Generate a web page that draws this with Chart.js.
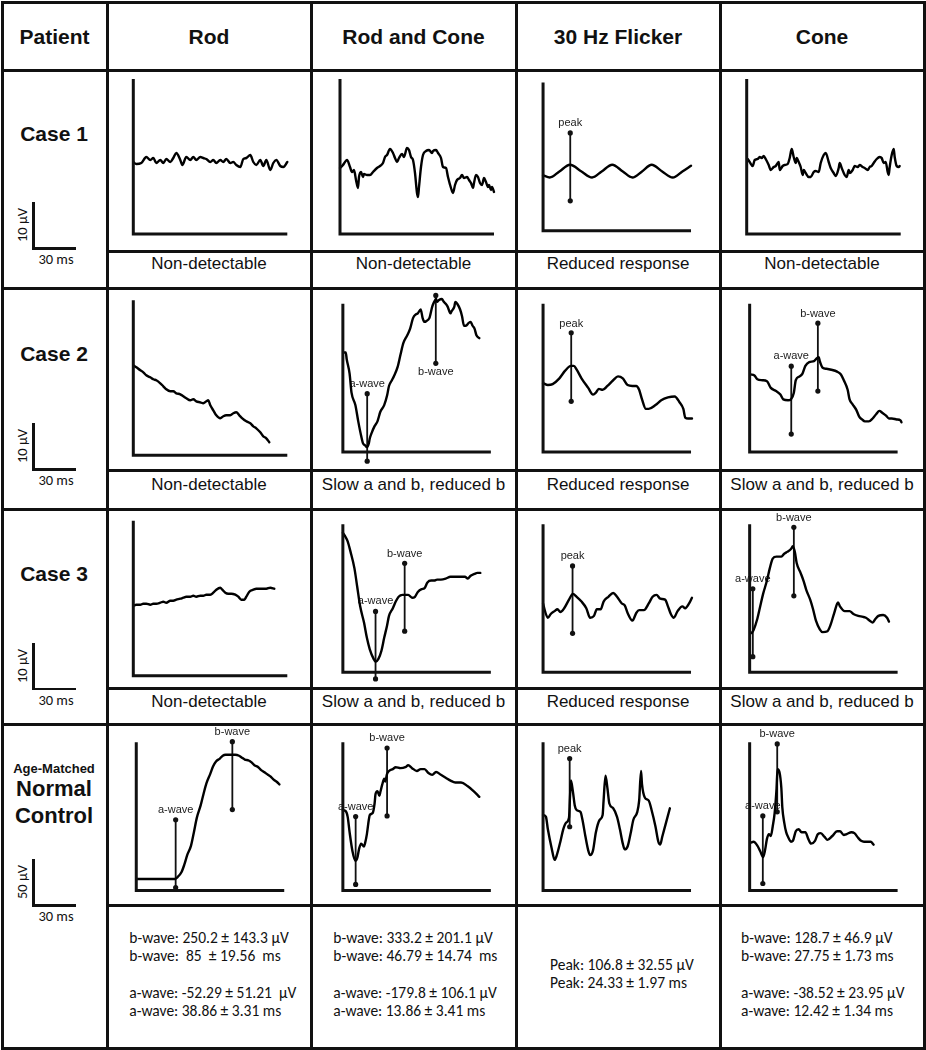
<!DOCTYPE html>
<html>
<head>
<meta charset="utf-8">
<script src="https://cdn.jsdelivr.net/npm/chart.js@4.4.0/dist/chart.umd.min.js"></script>
<style>
  body { margin: 0; background: #fff; }
  #fig { position: relative; width: 926px; height: 1050px; background: #fff; overflow: hidden;
         font-family: "Liberation Sans", Arial, sans-serif; color: #111; }
  .ln { position: absolute; background: #111; z-index: 5; }
  .t { position: absolute; white-space: pre; transform: translate(-50%, -50%); line-height: 1; }
  .stat { position: absolute; white-space: pre; font-family: Carlito, Lato, "Open Sans", sans-serif;
          font-size: 15.5px; line-height: 18.3px; color: #111; }
  canvas { position: absolute; }
</style>
</head>
<body>
<div id="fig"></div>
<script>
// table text
const headers = ['Patient', 'Rod', 'Rod and Cone', '30 Hz Flicker', 'Cone'];
const patients = ['Case 1', 'Case 2', 'Case 3'];
const findings = [
  ['Non-detectable', 'Non-detectable', 'Reduced response', 'Non-detectable'],
  ['Non-detectable', 'Slow a and b, reduced b', 'Reduced response', 'Slow a and b, reduced b'],
  ['Non-detectable', 'Slow a and b, reduced b', 'Reduced response', 'Slow a and b, reduced b']
];
const ampBars = ['10 µV', '10 µV', '10 µV', '50 µV'];
const timeBar = '30 ms';
const controlStats = [
  ['b-wave: 250.2 ± 143.3 µV', 'b-wave:  85  ± 19.56  ms', '', 'a-wave: -52.29 ± 51.21  µV', 'a-wave: 38.86 ± 3.31 ms'],
  ['b-wave: 333.2 ± 201.1 µV', 'b-wave: 46.79 ± 14.74  ms', '', 'a-wave: -179.8 ± 106.1 µV', 'a-wave: 13.86 ± 3.41 ms'],
  ['Peak: 106.8 ± 32.55 µV', 'Peak: 24.33 ± 1.97 ms'],
  ['b-wave: 128.7 ± 46.9 µV', 'b-wave: 27.75 ± 1.73 ms', '', 'a-wave: -38.52 ± 23.95 µV', 'a-wave: 12.42 ± 1.34 ms']
];

// traces: [time, amplitude] in axis units (axis box is 154 x 155)
const case1Rod = [[0,72],[3,70],[8,71],[13,77],[17,74],[20,76],[23,71],[27,74],[30,71],[33,75],[37,72],[40,76],[43,81],[47,74],[49,69],[53,77],[57,74],[60,77],[63,74],[67,77],[70,76],[73,75],[77,72],[80,74],[83,71],[87,74],[90,72],[93,75],[97,71],[100,72],[103,69],[107,67],[110,75],[113,76],[117,79],[120,72],[123,69],[127,74],[130,68],[133,74],[137,64],[140,71],[143,74],[147,68],[150,67],[154,72]];
const case1RodCone = [[0,66],[3,69],[5,72],[7,74],[10,67],[12,62],[14,64],[16,54],[18,46],[19,57],[21,62],[23,57],[24,60],[27,59],[30,59],[33,62],[37,66],[40,68],[43,71],[45,77],[47,79],[50,85],[53,81],[55,76],[57,72],[59,76],[62,80],[64,77],[67,86],[69,84],[71,77],[73,74],[75,61],[77,41],[78,37],[79,47],[81,67],[83,79],[86,83],[89,84],[92,81],[93,83],[96,84],[98,81],[101,76],[103,67],[106,66],[108,57],[111,46],[113,41],[115,49],[117,54],[120,56],[122,59],[124,56],[127,57],[129,54],[131,51],[133,46],[134,51],[136,59],[138,57],[140,51],[142,49],[144,56],[146,52],[148,47],[149,49],[151,44],[152,47],[154,42]];
const case1Flicker = [[0,58],[7,55.7],[17,62],[28,69],[40,62],[51,55.7],[61,62],[72,69],[83,62],[93,55.7],[103,62],[113,69],[124,62],[135,55.7],[145,62],[154,68]];
const case1Cone = [[1,75],[3,72],[6,68],[8,74],[11,75],[13,77],[15,76],[17,78],[19,75],[22,69],[24,64],[27,67],[29,68],[32,72],[33,64],[36,68],[38,69],[41,70],[43,76],[45,85],[47,77],[49,71],[50,76],[52,72],[54,67],[56,59],[57,64],[59,61],[62,57],[64,57],[67,62],[69,63],[72,62],[74,71],[77,79],[79,81],[82,72],[84,66],[87,61],[89,58],[92,66],[93,71],[95,66],[98,59],[100,57],[102,64],[103,61],[106,64],[108,68],[111,67],[113,69],[116,67],[118,66],[121,64],[123,67],[125,68],[127,71],[130,75],[133,77],[135,76],[137,71],[139,72],[141,62],[142,59],[143,67],[145,79],[147,85],[148,77],[150,68],[152,67],[153,68]];

const case2Rod = [[0,90],[3,88],[7,85],[10,83],[13,80],[17,78],[20,76],[23,75],[27,72],[30,69],[33,66],[37,64],[40,64],[43,62],[47,61],[50,59],[53,57],[57,55],[60,56],[63,54],[67,53],[70,52],[73,54],[75,55],[77,50],[80,45],[83,40],[87,37],[90,39],[93,40],[97,40],[100,42],[103,43],[106,40],[109,37],[113,34],[117,32],[120,29],[123,27],[127,23],[130,19],[133,17],[136,13]];
const case2RodCone = [[1,104],[3,104],[4,97],[7,82],[9,62],[13,49],[16,32],[19,17],[21,9],[23,7],[25,5],[27,9],[28,14],[30,20],[33,27],[36,32],[39,42],[43,49],[46,59],[48,69],[51,75],[53,79],[57,89],[60,102],[63,114],[67,122],[70,129],[73,140],[76,144],[78,145],[81,149],[83,140],[85,136],[87,137],[90,140],[93,152],[95,157],[97,160],[98,157],[100,159],[103,160],[105,157],[107,155],[109,152],[112,145],[113,147],[116,152],[117,157],[119,155],[122,149],[124,142],[126,132],[128,132],[131,135],[133,136],[135,132],[137,129],[139,122],[142,119]];
const case2Flicker = [[0,72],[5,70],[10,71],[17,77],[23,85],[29,90],[32,90],[35,86],[40,77],[47,67],[52,60],[55,62],[58,66],[62,65],[67,69],[73,75],[78,79],[83,77],[88,70],[93,69],[97,69],[100,65],[103,55],[107,45],[110,45],[117,49],[123,54],[130,57],[137,58],[142,52],[146,45],[148,36],[151,35],[155,35]];
const case2Cone = [[1,81],[5,80],[8,76],[13,75],[18,74],[22,67],[27,64],[32,60],[35,55],[40,54],[43,55],[46,62],[48,75],[52,79],[55,82],[58,90],[62,94],[67,95],[70,98],[72,99],[73,95],[76,88],[80,87],[85,86],[91,84],[95,81],[98,75],[102,65],[104,55],[107,50],[111,44],[114,37],[117,34],[120,32],[124,32],[128,35],[132,40],[135,43],[138,41],[142,38],[145,35],[148,35],[153,34],[157,33],[158,31]];

const case3Rod = [[0,70],[3,71],[7,71],[10,72],[13,72],[17,71],[20,72],[23,72],[27,73],[30,74],[33,73],[37,75],[40,75],[43,76],[47,77],[50,78],[53,79],[57,79],[60,80],[63,79],[67,80],[70,80],[73,81],[77,81],[80,83],[83,86],[87,88],[89,86],[92,83],[95,82],[98,82],[102,81],[105,79],[108,76],[111,76],[113,79],[116,84],[120,86],[123,87],[127,87],[130,87],[133,87],[137,88],[141,87]];
const case3RodCone = [[0,146],[2,143],[5,137],[8,126],[12,109],[15,89],[18,69],[22,52],[25,36],[28,24],[32,14],[34,11],[37,14],[40,22],[43,36],[46,49],[48,59],[52,67],[55,74],[58,79],[62,81],[65,81],[68,81],[72,78],[75,79],[78,84],[82,87],[85,88],[88,94],[92,96],[95,96],[98,97],[102,97],[107,98],[112,100],[117,100],[122,100],[127,100],[130,98],[133,101],[137,103],[140,104],[143,104]];
const case3Flicker = [[0,72],[2,64],[5,57],[8,61],[12,64],[15,66],[18,63],[22,67],[27,76],[31,82],[35,79],[40,74],[45,67],[49,57],[53,59],[56,66],[60,66],[63,74],[68,79],[73,83],[77,79],[82,72],[85,70],[88,62],[93,54],[97,62],[100,65],[105,65],[110,72],[114,79],[118,81],[122,77],[127,76],[130,69],[133,61],[136,57],[140,64],[145,69],[148,67],[152,72],[155,78]];
const case3Cone = [[2,41],[4,44],[8,56],[11,69],[14,82],[18,96],[21,109],[24,119],[28,121],[33,121],[36,124],[39,126],[43,129],[45,132],[47,126],[49,114],[53,104],[56,96],[59,86],[63,76],[66,66],[69,54],[73,45],[76,42],[81,43],[84,49],[88,62],[92,73],[94,69],[99,64],[104,64],[108,61],[113,59],[118,58],[121,57],[125,54],[128,52],[131,56],[134,59],[139,60],[143,57],[145,53]];

const controlRod = [[0,12],[7,12],[13,12],[20,12],[27,12],[33,12],[40,12],[43,14],[47,19],[50,27],[53,37],[57,47],[60,61],[63,76],[67,89],[70,101],[73,112],[77,122],[80,130],[83,135],[87,138],[90,141],[93,142],[97,142],[100,142],[103,142],[107,141],[110,139],[113,137],[117,136],[120,134],[123,131],[127,129],[130,126],[133,124],[137,121],[140,119],[143,116],[147,113],[149,111]];
const controlRodCone = [[0,84],[3,83],[5,77],[7,61],[10,41],[13,31],[15,34],[17,44],[19,49],[22,46],[23,49],[25,59],[27,74],[28,79],[31,81],[33,91],[34,101],[36,104],[38,99],[39,103],[41,111],[43,117],[44,114],[46,122],[48,125],[52,127],[55,129],[60,128],[65,129],[68,131],[72,128],[77,125],[81,127],[85,127],[89,123],[93,121],[97,124],[102,121],[107,118],[112,115],[117,113],[123,113],[130,109],[136,104],[142,98]];
const controlFlicker = [[0,79],[3,77],[5,64],[9,44],[12,32],[14,36],[18,51],[21,64],[24,71],[27,76],[28,97],[29,115],[31,104],[33,89],[35,84],[39,82],[41,74],[44,57],[47,42],[49,37],[52,42],[55,61],[59,74],[62,79],[63,94],[65,120],[67,107],[69,91],[73,86],[77,77],[80,64],[83,49],[85,43],[88,46],[91,59],[94,74],[98,82],[100,94],[102,125],[103,111],[106,97],[110,94],[113,84],[117,67],[120,51],[122,48],[124,56],[128,71],[132,86]];
const controlCone = [[1,50],[4,51],[8,47],[11,41],[14,35],[16,42],[18,54],[20,59],[22,57],[24,67],[26,81],[28,107],[29,127],[31,124],[33,107],[34,87],[36,71],[38,61],[40,56],[43,51],[45,52],[48,62],[51,64],[54,61],[58,61],[61,54],[64,49],[68,52],[71,59],[74,60],[78,56],[81,53],[86,57],[91,62],[94,62],[98,58],[101,59],[106,61],[109,60],[113,55],[116,52],[119,51],[123,51],[126,51],[129,48]];

// markers: [label, time, top, bottom, label height]
const case1FlickerMarks = [['peak', 28.3, 102.3, 31.3, 112.3]];
const case2RodConeMarks = [['a-wave', 25.3, 61, -9.7, 71], ['b-wave', 96.7, 163.7, 92.7, 83.7]];
const case2FlickerMarks = [['peak', 29.3, 124.7, 53, 134.3]];
const case2ConeMarks = [['a-wave', 43.3, 89.7, 18.7, 100], ['b-wave', 71, 134.7, 63.7, 144.7]];
const case3RodConeMarks = [['a-wave', 34, 63.7, -7, 74.7], ['b-wave', 64.3, 114, 43, 124]];
const case3FlickerMarks = [['peak', 30.7, 111.3, 40.7, 121.3]];
const case3ConeMarks = [['a-wave', 3.3, 87.3, 16.3, 98], ['b-wave', 46, 151.7, 80, 161.7]];
const controlRodMarks = [['a-wave', 41, 74, 3, 84.7], ['b-wave', 100, 155.7, 84.7, 165.7]];
const controlRodConeMarks = [['a-wave', 13.3, 77.3, 6.3, 87.3], ['b-wave', 46, 149, 78, 159.7]];
const controlFlickerMarks = [['peak', 27.7, 138, 66.7, 148]];
const controlConeMarks = [['a-wave', 13.7, 78, 7.3, 88], ['b-wave', 28.7, 153.3, 82.3, 164]];

const traces = [
  [case1Rod, case1RodCone, case1Flicker, case1Cone],
  [case2Rod, case2RodCone, case2Flicker, case2Cone],
  [case3Rod, case3RodCone, case3Flicker, case3Cone],
  [controlRod, controlRodCone, controlFlicker, controlCone]
];
const marks = [
  [[], [], case1FlickerMarks, []],
  [[], case2RodConeMarks, case2FlickerMarks, case2ConeMarks],
  [[], case3RodConeMarks, case3FlickerMarks, case3ConeMarks],
  [controlRodMarks, controlRodConeMarks, controlFlickerMarks, controlConeMarks]
];

// layout
const colX = [2, 107, 311, 516, 720, 924];
const rowY = [2, 70, 288, 509, 724, 1048];
const sepY = [251, 470, 688, 905];
const axisLeft = [133.3, 340, 540, 746.7];
const axisBottom = [234, 455.3, 675.7, 894];
const axisW = 154, axisH = 155;

const fig = document.getElementById('fig');

function rule(x, y, w, h) {
  const d = document.createElement('div');
  d.className = 'ln';
  d.style.cssText = `left:${x}px;top:${y}px;width:${w}px;height:${h}px`;
  fig.appendChild(d);
}
function text(s, x, y, css) {
  const d = document.createElement('div');
  d.className = 't';
  d.textContent = s;
  d.style.cssText = `left:${x}px;top:${y}px;${css || ''}`;
  fig.appendChild(d);
  return d;
}

colX.forEach(x => rule(x - 1.5, rowY[0] - 1.5, 3, rowY[5] - rowY[0] + 3));
rowY.forEach(y => rule(colX[0] - 1.5, y - 1.5, colX[5] - colX[0] + 3, 3));
sepY.forEach(y => rule(colX[1], y - 1.5, colX[5] - colX[1], 3));

headers.forEach((h, i) => text(h, (colX[i] + colX[i + 1]) / 2, 36, 'font-weight:bold;font-size:21px'));

const caseY = [132.7, 352.7, 573.3];
patients.forEach((p, i) => text(p, 54, caseY[i], 'font-weight:bold;font-size:21px'));
text('Age-Matched', 54, 767.7, 'font-weight:bold;font-size:13px');
text('Normal', 54, 789, 'font-weight:bold;font-size:22px');
text('Control', 54, 815.5, 'font-weight:bold;font-size:22px');

const findY = [263.3, 484.3, 701];
findings.forEach((row, r) => row.forEach((f, c) =>
  text(f, (colX[c + 1] + colX[c + 2]) / 2, findY[r], 'font-size:17px')));

// scale bars
const barTop = [201.7, 423.3, 642.7, 859.3];
const barBottom = [248.3, 469.3, 688.7, 905];
ampBars.forEach((a, r) => {
  rule(32, barTop[r], 2.5, barBottom[r] - barTop[r] + 1);
  rule(32, barBottom[r] - 1, 44, 2.5);
  text(a, 22, barBottom[r] - 23, 'font-family:Carlito,Lato,sans-serif;font-size:14.5px;transform:translate(-50%,-50%) rotate(-90deg)');
  text(timeBar, 56, barBottom[r] + 11, 'font-family:Carlito,Lato,sans-serif;font-size:14.5px');
});

// control statistics
const statLeft = [129.3, 333.3, 550, 741];
const statTop = [929.2, 929.2, 955.9, 929.2];
controlStats.forEach((lines, c) => {
  const d = document.createElement('div');
  d.className = 'stat';
  d.style.left = statLeft[c] + 'px';
  d.style.top = statTop[c] + 'px';
  d.textContent = lines.join('\n');
  fig.appendChild(d);
});

const markLabels = {
  id: 'markLabels',
  beforeDatasetsDraw(chart, args, opts) {
    const ctx = chart.ctx;
    ctx.save();
    ctx.font = '11px "Liberation Sans", Arial, sans-serif';
    ctx.fillStyle = '#222';
    ctx.textAlign = 'center';
    ctx.textBaseline = 'middle';
    (opts.marks || []).forEach(m => {
      ctx.fillText(m[0], chart.scales.x.getPixelForValue(m[1]), chart.scales.y.getPixelForValue(m[4]));
    });
    ctx.restore();
  }
};

for (let r = 0; r < 4; r++) {
  for (let c = 0; c < 4; c++) {
    const left = colX[c + 1], top = rowY[r + 1];
    const w = colX[c + 2] - left, h = sepY[r] - top;
    const cv = document.createElement('canvas');
    cv.width = w; cv.height = h;
    cv.style.left = left + 'px'; cv.style.top = top + 'px';
    cv.style.width = w + 'px'; cv.style.height = h + 'px';
    fig.appendChild(cv);

    const datasets = [
      {
        data: [{ x: 0, y: axisH }, { x: 0, y: 0 }, { x: axisW, y: 0 }],
        borderColor: '#111', borderWidth: 3, pointRadius: 0, borderJoinStyle: 'miter', borderCapStyle: 'butt'
      },
      {
        data: traces[r][c].map(p => ({ x: p[0], y: p[1] })),
        borderColor: '#000', borderWidth: 2.4, pointRadius: 0,
        cubicInterpolationMode: 'monotone', borderJoinStyle: 'round', borderCapStyle: 'round'
      }
    ];
    marks[r][c].forEach(m => datasets.push({
      data: [{ x: m[1], y: m[2] }, { x: m[1], y: m[3] }],
      borderColor: '#111', borderWidth: 1.8, pointRadius: 2.6,
      pointBackgroundColor: '#111', pointBorderWidth: 0
    }));

    new Chart(cv, {
      type: 'line',
      data: { datasets },
      plugins: [markLabels],
      options: {
        responsive: false,
        animation: false,
        events: [],
        layout: { padding: 0 },
        plugins: {
          legend: { display: false },
          tooltip: { enabled: false },
          markLabels: { marks: marks[r][c] }
        },
        scales: {
          x: { type: 'linear', display: false, min: left - axisLeft[c], max: left + w - axisLeft[c] },
          y: { type: 'linear', display: false, min: axisBottom[r] - sepY[r], max: axisBottom[r] - top }
        }
      }
    });
  }
}
</script>
</body>
</html>
